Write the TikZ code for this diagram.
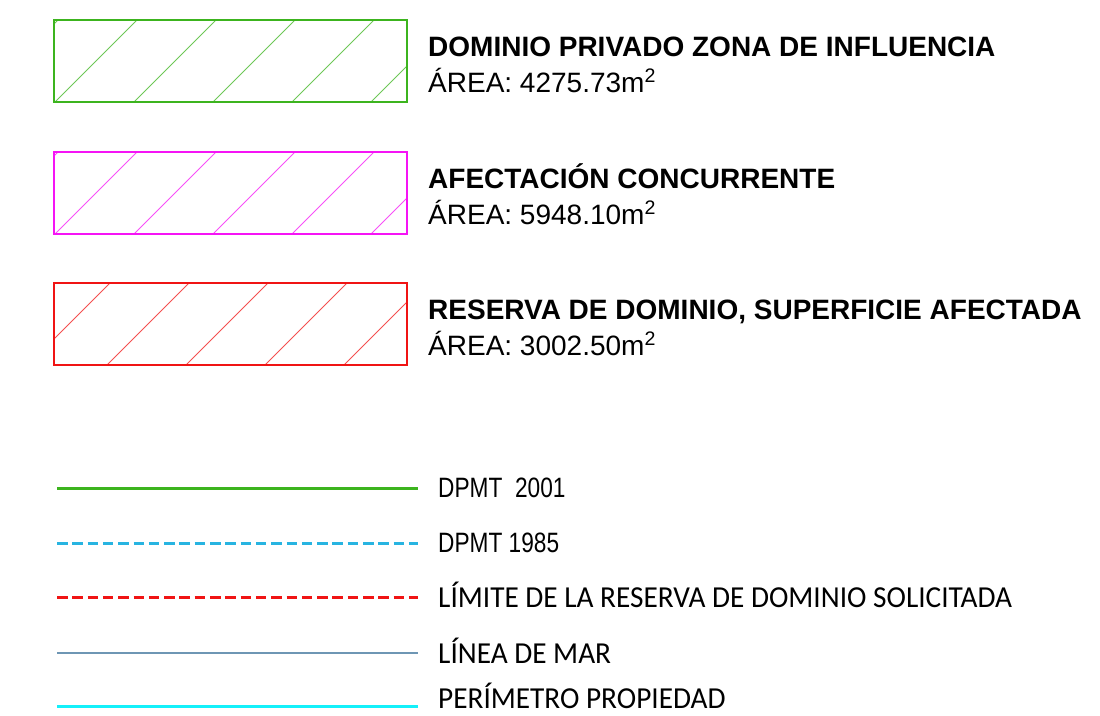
\documentclass[tikz,border=0pt]{standalone}
\usepackage{fontspec}
\setmainfont{Liberation Sans}
\newfontfamily\narrowsans{Liberation Sans}[FakeStretch=0.81]
\newfontfamily\narrowcal{Carlito}[FakeStretch=0.96]
\definecolor{zonagreen}{RGB}{60,180,30}
\definecolor{zonamagenta}{RGB}{245,20,245}
\definecolor{zonared}{RGB}{240,20,20}
\definecolor{dpmtblue}{RGB}{40,180,225}
\definecolor{marblue}{RGB}{110,150,180}
\definecolor{perimcyan}{RGB}{20,240,250}
\usetikzlibrary{positioning}

\begin{document}
\begin{tikzpicture}[x=1pt, y=-1pt,
      zonebox/.style 2 args={draw=#1, line width=2.6pt, anchor=north west,
                  inner sep=0pt, outer sep=0pt,
                  minimum width=353pt, minimum height=82pt,
                  path picture={
                    \foreach \k in {-1,...,5}
                      \draw[#1!75, line width=0.9pt]
                        ([xshift=\k*79pt+#2]path picture bounding box.south west)
                        -- ++(120pt,120pt);}},
      zonetitle/.style={anchor=base west, inner sep=0pt,
                  font=\fontsize{28}{30}\selectfont\bfseries},
      zonearea/.style={anchor=base west, inner sep=0pt,
                  font=\fontsize{28}{30}\selectfont},
      legline/.style={line width=3pt},
      legdash/.style={dash pattern=on 10.5pt off 4.8pt},
      dpmtlabel/.style={anchor=base west, inner sep=0pt,
                  font=\fontsize{28}{30}\narrowsans},
      callabel/.style={anchor=base west, inner sep=0pt,
                  font=\fontsize{30.5}{33}\narrowcal}]
    \useasboundingbox (0,0) rectangle (1100,715);

    % hatched areas
    \node[zonebox={zonagreen}{1pt}] (privado) at (54,20) {};
    \node[zonebox={zonamagenta}{1pt}] (concurrente) at (54,152) {};
    \node[zonebox={zonared}{53pt}] (reserva) at (54,283) {};

    \node[zonetitle] (privadotitle) at (428,56) {DOMINIO PRIVADO ZONA DE INFLUENCIA};
    \node[zonearea] (privadoarea) at (428,92) {ÁREA: 4275.73m\textsuperscript{2}};
    \node[zonetitle] (concurrentetitle) at (428,188) {AFECTACIÓN CONCURRENTE};
    \node[zonearea] (concurrentearea) at (428,224) {ÁREA: 5948.10m\textsuperscript{2}};
    \node[zonetitle] (reservatitle) at (428,319) {RESERVA DE DOMINIO, SUPERFICIE AFECTADA};
    \node[zonearea] (reservaarea) at (428,355) {ÁREA: 3002.50m\textsuperscript{2}};

    % line legend
    \coordinate (dpmtnewA) at (57,488);
    \coordinate (dpmtnewB) at (418,488);
    \coordinate (dpmtoldA) at (57,543);
    \coordinate (dpmtoldB) at (418,543);
    \coordinate (limiteA) at (57,597);
    \coordinate (limiteB) at (418,597);
    \coordinate (marA) at (57,653);
    \coordinate (marB) at (418,653);
    \coordinate (perimA) at (57,706);
    \coordinate (perimB) at (418,706);

    \draw[legline, zonagreen] (dpmtnewA) -- (dpmtnewB);
    \draw[legline, legdash, dpmtblue] (dpmtoldA) -- (dpmtoldB);
    \draw[legline, legdash, zonared] (limiteA) -- (limiteB);
    \draw[legline, marblue, line width=2.2pt] (marA) -- (marB);
    \draw[legline, perimcyan] (perimA) -- (perimB);

    \node[dpmtlabel] (dpmtnewlabel) at (438,497) {DPMT\ \ 2001};
    \node[dpmtlabel] (dpmtoldlabel) at (438,552) {DPMT 1985};
    \node[callabel] (limitelabel) at (438,607) {LÍMITE DE LA RESERVA DE DOMINIO SOLICITADA};
    \node[callabel] (marlabel) at (438,663) {LÍNEA DE MAR};
    \node[callabel] (perimlabel) at (438,708) {PERÍMETRO PROPIEDAD};
  \end{tikzpicture}
\end{document}
